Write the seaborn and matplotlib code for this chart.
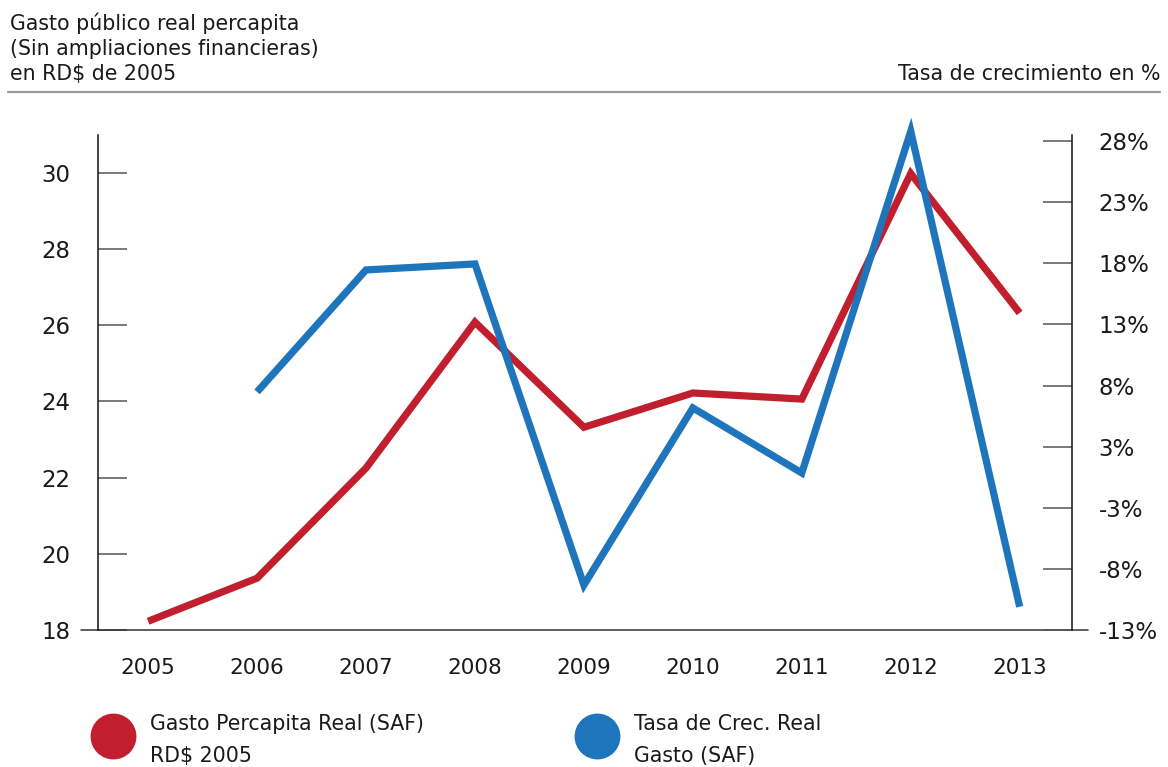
import numpy as np
import pandas as pd
import matplotlib.pyplot as plt
import seaborn as sns
from matplotlib.lines import Line2D

# Data
years = [2005, 2006, 2007, 2008, 2009, 2010, 2011, 2012, 2013]
gasto_percapita = [18.23, 19.36, 22.25, 26.08, 23.32, 24.22, 24.06, 29.98, 26.32]
tasa_crec = [np.nan, 6.98, 16.96, 17.45, -8.82, 5.67, 0.35, 28.3, -10.6]

left_ticks = [18, 20, 22, 24, 26, 28, 30]
right_ticks = [-12.5, -7.5, -2.5, 2.5, 7.5, 12.5, 17.5, 22.5, 27.5]
right_labels = ["-13%", "-8%", "-3%", "3%", "8%", "13%", "18%", "23%", "28%"]

red = "#C11E2E"
blue = "#1F75BC"

df = pd.DataFrame({"year": years, "gasto": gasto_percapita, "tasa": tasa_crec})

sns.set_style("white")
plt.rcParams["font.family"] = ["DejaVu Sans"]

fig = plt.figure(figsize=(11.68, 7.67), dpi=100)
ax = fig.add_axes([0.0839, 0.1786, 0.8339, 0.6454])
ax2 = ax.twinx()

sns.lineplot(data=df, x="year", y="gasto", ax=ax, color=red, linewidth=5.2)
sns.lineplot(data=df.dropna(), x="year", y="tasa", ax=ax2, color=blue, linewidth=5.2)
for l in ax.lines + ax2.lines:
    l.set_solid_joinstyle("miter")
    l.set_solid_capstyle("butt")
    l.set_clip_on(False)

ax.set_xlim(2005 - 0.46, 2013 + 0.48)
ax.set_ylim(18, 30.99)
ax2.set_ylim(-12.5, 28.0)

# left axis
ax.set_yticks(left_ticks)
ax.set_yticks(left_ticks, minor=True)
ax.tick_params(axis="y", which="major", direction="in", length=21, width=1.1,
               color="#555555", labelsize=16.5, pad=20, labelcolor="#1a1a1a")
ax.tick_params(axis="y", which="minor", direction="out", length=12, width=1.1,
               color="#555555")
ax.set_xticks(years)
ax.set_xticklabels([str(y) for y in years])
ax.tick_params(axis="x", length=0, labelsize=15.5, pad=20, labelcolor="#1a1a1a")

# right axis
ax2.set_yticks(right_ticks)
ax2.set_yticklabels(right_labels)
ax2.set_yticks(right_ticks, minor=True)
ax2.tick_params(axis="y", which="major", direction="in", length=21, width=1.1,
                color="#555555", labelsize=16.5, pad=19, labelcolor="#1a1a1a")
ax2.tick_params(axis="y", which="minor", direction="out", length=12, width=1.1,
                color="#555555")

for a in (ax, ax2):
    a.set_xlabel("")
    a.set_ylabel("")
    a.spines["top"].set_visible(False)
    a.spines["bottom"].set_visible(False)
ax.spines["right"].set_visible(False)
ax2.spines["left"].set_visible(False)
ax.spines["left"].set_color("#111111")
ax.spines["left"].set_linewidth(1.1)
ax2.spines["right"].set_color("#111111")
ax2.spines["right"].set_linewidth(1.1)

# baseline extending past both axes
ax.plot([-0.0175, 1.0164], [0, 0], transform=ax.transAxes, color="#333333",
        linewidth=1.1, clip_on=False)

# header
fig.text(10 / 1168, 1 - 12 / 767,
         "Gasto público real percapita\n(Sin ampliaciones financieras)\nen RD$ de 2005",
         ha="left", va="top", fontsize=14.8, linespacing=1.34, color="#1a1a1a")
fig.text(1160 / 1168, 1 - 80 / 767, "Tasa de crecimiento en %",
         ha="right", va="baseline", fontsize=14.8, color="#1a1a1a")
fig.add_artist(Line2D([8 / 1168, 1160 / 1168], [1 - 92 / 767, 1 - 92 / 767],
                      color="#9a9a9a", linewidth=1.6))

# legend
h_red = Line2D([], [], marker="o", markersize=32, color=red, linestyle="none")
h_blue = Line2D([], [], marker="o", markersize=32, color=blue, linestyle="none")
leg_kw = dict(loc="center left", frameon=False, borderpad=0, borderaxespad=0,
              handlelength=2.2, handleheight=2.3, handletextpad=0.7,
              fontsize=14.8)
leg1 = fig.legend([h_red], ["Gasto Percapita Real (SAF)\nRD$ 2005"],
                  bbox_to_anchor=(90 / 1168, 1 - 740 / 767), **leg_kw)
leg2 = fig.legend([h_blue], ["Tasa de Crec. Real\nGasto (SAF)"],
                  bbox_to_anchor=(574 / 1168, 1 - 740 / 767), **leg_kw)
for leg in (leg1, leg2):
    for t in leg.get_texts():
        t.set_linespacing(1.77)
        t.set_color("#1a1a1a")

fig.savefig("out.png", dpi=100)
